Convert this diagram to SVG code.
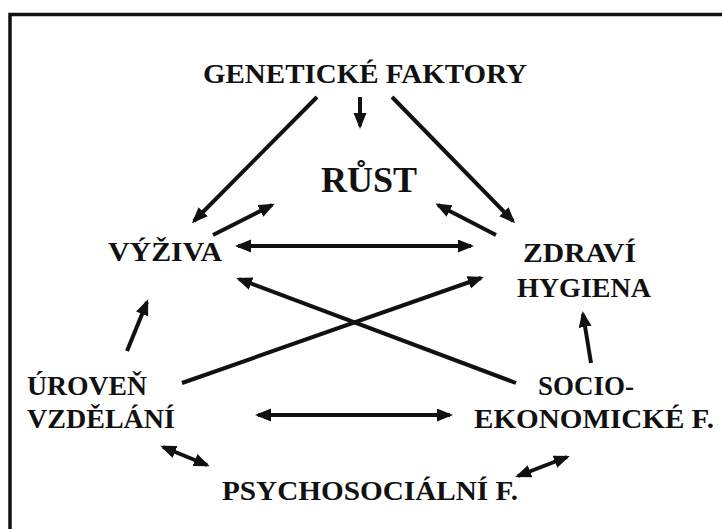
<svg xmlns="http://www.w3.org/2000/svg" width="722" height="529" viewBox="0 0 722 529">
<style>
text{font-family:"Liberation Serif","Times New Roman",serif;font-weight:bold;fill:#111;font-size:28px}
.c line{stroke:#111;stroke-width:4;fill:none}
.e{marker-end:url(#ah)}
.b{marker-start:url(#ah);marker-end:url(#ah)}
</style>
<defs>
<marker id="ah" markerUnits="userSpaceOnUse" markerWidth="18" markerHeight="14" refX="13" refY="6.5" orient="auto-start-reverse">
<path d="M0,0 L16,6.5 L0,13 Z" fill="#111"/>
</marker>
</defs>
<rect width="722" height="529" fill="#fff"/>
<path d="M10,529 L10,14.5 L722,14.5" fill="none" stroke="#111" stroke-width="3.5"/>
<g id="genetic"><text x="365" y="83" text-anchor="middle" textLength="324" lengthAdjust="spacingAndGlyphs">GENETICKÉ FAKTORY</text></g>
<g id="rust"><text x="369" y="192" text-anchor="middle" style="font-size:36px">RŮST</text></g>
<g id="vyziva"><text x="165" y="261" text-anchor="middle" textLength="114" lengthAdjust="spacingAndGlyphs">VÝŽIVA</text></g>
<g id="zdravi"><text x="523" y="262" textLength="113" lengthAdjust="spacingAndGlyphs">ZDRAVÍ</text><text x="517" y="297" textLength="134" lengthAdjust="spacingAndGlyphs">HYGIENA</text></g>
<g id="uroven"><text x="27" y="395" textLength="120" lengthAdjust="spacingAndGlyphs">ÚROVEŇ</text><text x="27" y="428" textLength="148" lengthAdjust="spacingAndGlyphs">VZDĚLÁNÍ</text></g>
<g id="socio"><text x="586" y="395" text-anchor="middle" textLength="96" lengthAdjust="spacingAndGlyphs">SOCIO-</text><text x="594" y="428" text-anchor="middle" textLength="240" lengthAdjust="spacingAndGlyphs">EKONOMICKÉ F.</text></g>
<g id="psycho"><text x="370" y="500" text-anchor="middle" textLength="296" lengthAdjust="spacingAndGlyphs">PSYCHOSOCIÁLNÍ F.</text></g>
<g class="c" id="connectors">
<line class="e" x1="317" y1="97" x2="194" y2="221"/>
<line class="e" x1="360" y1="97" x2="360" y2="126"/>
<line class="e" x1="392" y1="97" x2="513" y2="221"/>
<line class="e" x1="213" y1="235" x2="272" y2="205"/>
<line class="e" x1="496" y1="235" x2="438" y2="205"/>
<line class="b" x1="238" y1="246" x2="471" y2="246"/>
<line class="e" x1="516" y1="383" x2="239" y2="279"/>
<line class="e" x1="182" y1="383" x2="481" y2="278"/>
<line class="e" x1="127" y1="351" x2="147" y2="302"/>
<line class="e" x1="591" y1="363" x2="583" y2="314"/>
<line class="b" x1="258" y1="415" x2="450" y2="415"/>
<line class="b" x1="163" y1="447" x2="207" y2="465"/>
<line class="b" x1="518" y1="476" x2="567" y2="457"/>
</g>
</svg>
